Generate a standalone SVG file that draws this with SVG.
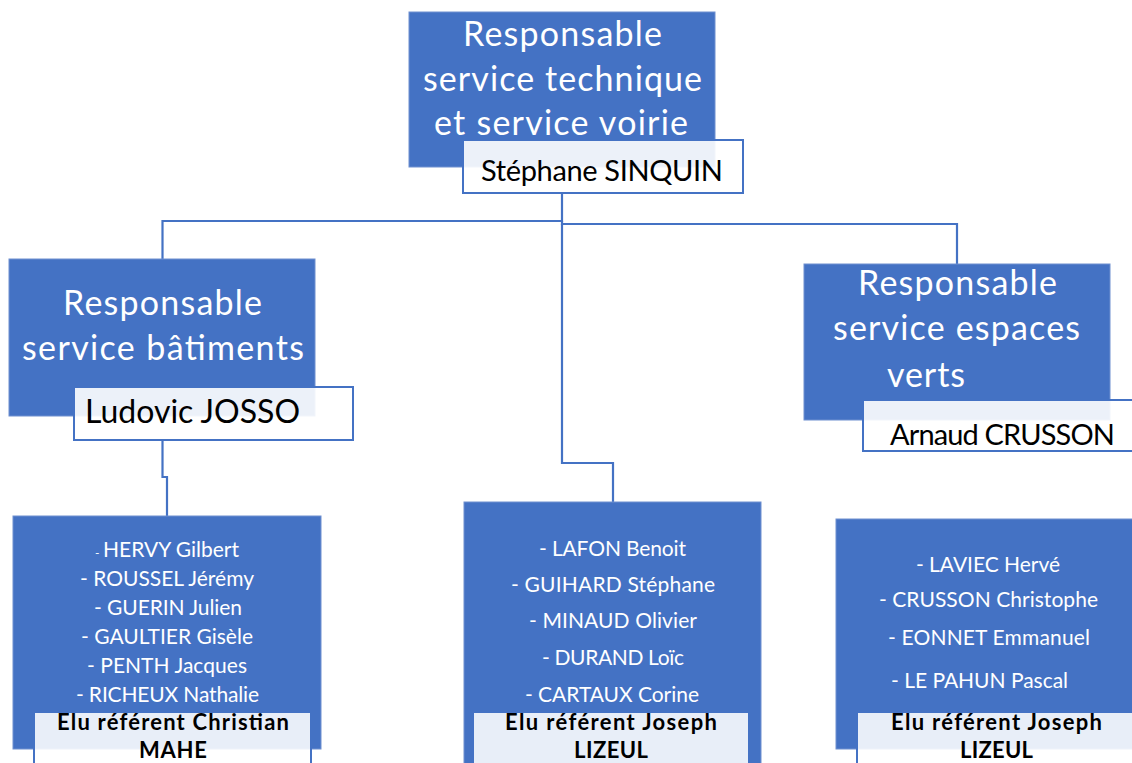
<svg xmlns="http://www.w3.org/2000/svg" width="1132" height="763" viewBox="0 0 1132 763">
<style>
.blue{fill:#4472c4;stroke:#6f90d0;stroke-width:1}
.wbox{fill:#ffffff;fill-opacity:0.9;stroke:#4472c4;stroke-width:2}
.lbox{fill:#ffffff;fill-opacity:0.88;stroke:#4472c4;stroke-width:2}
.conn{fill:none;stroke:#4472c4;stroke-width:2.2}
.h{font-family:Lato,"Liberation Sans",sans-serif;font-size:34px;fill:#ffffff}
.n{font-family:Lato,"Liberation Sans",sans-serif;font-size:29px;fill:#000000}
.m{font-family:Lato,"Liberation Sans",sans-serif;font-size:21px;fill:#ffffff}
.e{font-family:Lato,"Liberation Sans",sans-serif;font-size:22px;font-weight:bold;fill:#000000}
</style>
<rect width="1132" height="763" fill="#ffffff"/>
<g id="connectors">
<path class="conn" d="M562,193 V221 H162.5 V259"/>
<path class="conn" d="M562,221 V224 H957 V264"/>
<path class="conn" d="M562,224 V463 H613 V502"/>
<path class="conn" d="M162.5,440 V477 H167 V516"/>
</g>
<g id="node-top">
<rect class="blue" x="409" y="12" width="306" height="155"/>
<text class="h" x="463" y="46" textLength="199" lengthAdjust="spacing">Responsable</text>
<text class="h" x="423" y="91" textLength="279" lengthAdjust="spacing">service technique</text>
<text class="h" x="434" y="135" textLength="254" lengthAdjust="spacing">et service voirie</text>
<rect class="wbox" x="463" y="140" width="280" height="53"/>
<text class="n" x="481" y="181" textLength="242" lengthAdjust="spacing">Stéphane SINQUIN</text>
</g>
<g id="node-batiments">
<rect class="blue" x="9" y="259" width="306" height="157"/>
<text class="h" x="63" y="315" textLength="199" lengthAdjust="spacing">Responsable</text>
<text class="h" x="22" y="360" textLength="282" lengthAdjust="spacing">service bâtiments</text>
<rect class="wbox" x="74" y="387" width="279" height="53"/>
<text class="n" x="85" y="423" style="font-size:32px" textLength="215" lengthAdjust="spacing">Ludovic JOSSO</text>
</g>
<g id="node-espaces-verts">
<rect class="blue" x="804" y="264" width="306" height="156"/>
<text class="h" x="858" y="295" textLength="199" lengthAdjust="spacing">Responsable</text>
<text class="h" x="833" y="340" textLength="247" lengthAdjust="spacing">service espaces</text>
<text class="h" x="887" y="387" textLength="78" lengthAdjust="spacing">verts</text>
<rect class="wbox" x="863" y="400" width="300" height="51"/>
<text class="n" x="890" y="445" textLength="225" lengthAdjust="spacing">Arnaud CRUSSON</text>
</g>
<g id="node-team-batiments">
<rect class="blue" x="13" y="516" width="308" height="233"/>
<text class="m" x="95" y="557"><tspan font-size="12">-</tspan> <tspan x="103" textLength="136" lengthAdjust="spacing">HERVY Gilbert</tspan></text>
<text class="m" x="80" y="586" textLength="174" lengthAdjust="spacing">- ROUSSEL Jérémy</text>
<text class="m" x="94" y="615" textLength="148" lengthAdjust="spacing">- GUERIN Julien</text>
<text class="m" x="81" y="644" textLength="172" lengthAdjust="spacing">- GAULTIER Gisèle</text>
<text class="m" x="87" y="673" textLength="160" lengthAdjust="spacing">- PENTH Jacques</text>
<text class="m" x="76" y="702" textLength="183" lengthAdjust="spacing">- RICHEUX Nathalie</text>
<rect class="lbox" x="34" y="712" width="277" height="80"/>
<text class="e" x="57" y="730" textLength="232" lengthAdjust="spacing">Elu référent Christian</text>
<text class="e" x="139" y="758" textLength="68" lengthAdjust="spacing">MAHE</text>
</g>
<g id="node-team-technique">
<rect class="blue" x="464" y="502" width="297" height="290"/>
<text class="m" x="539" y="556" textLength="147" lengthAdjust="spacing">- LAFON Benoit</text>
<text class="m" x="511" y="592" textLength="204" lengthAdjust="spacing">- GUIHARD Stéphane</text>
<text class="m" x="529" y="628" textLength="168" lengthAdjust="spacing">- MINAUD Olivier</text>
<text class="m" x="542" y="665" textLength="142" lengthAdjust="spacing">- DURAND Loïc</text>
<text class="m" x="525" y="702" textLength="174" lengthAdjust="spacing">- CARTAUX Corine</text>
<rect class="lbox" x="473" y="712" width="276" height="80"/>
<text class="e" x="505" y="730" textLength="212" lengthAdjust="spacing">Elu référent Joseph</text>
<text class="e" x="574" y="758" textLength="74" lengthAdjust="spacing">LIZEUL</text>
</g>
<g id="node-team-espaces-verts">
<rect class="blue" x="836" y="519" width="320" height="230"/>
<text class="m" x="916" y="572" textLength="144" lengthAdjust="spacing">- LAVIEC Hervé</text>
<text class="m" x="879" y="607" textLength="219" lengthAdjust="spacing">- CRUSSON Christophe</text>
<text class="m" x="888" y="645" textLength="202" lengthAdjust="spacing">- EONNET Emmanuel</text>
<text class="m" x="891" y="688" textLength="177" lengthAdjust="spacing">- LE PAHUN Pascal</text>
<rect class="lbox" x="857" y="712" width="300" height="80"/>
<text class="e" x="891" y="730" textLength="211" lengthAdjust="spacing">Elu référent Joseph</text>
<text class="e" x="960" y="758" textLength="73" lengthAdjust="spacing">LIZEUL</text>
</g>
</svg>
